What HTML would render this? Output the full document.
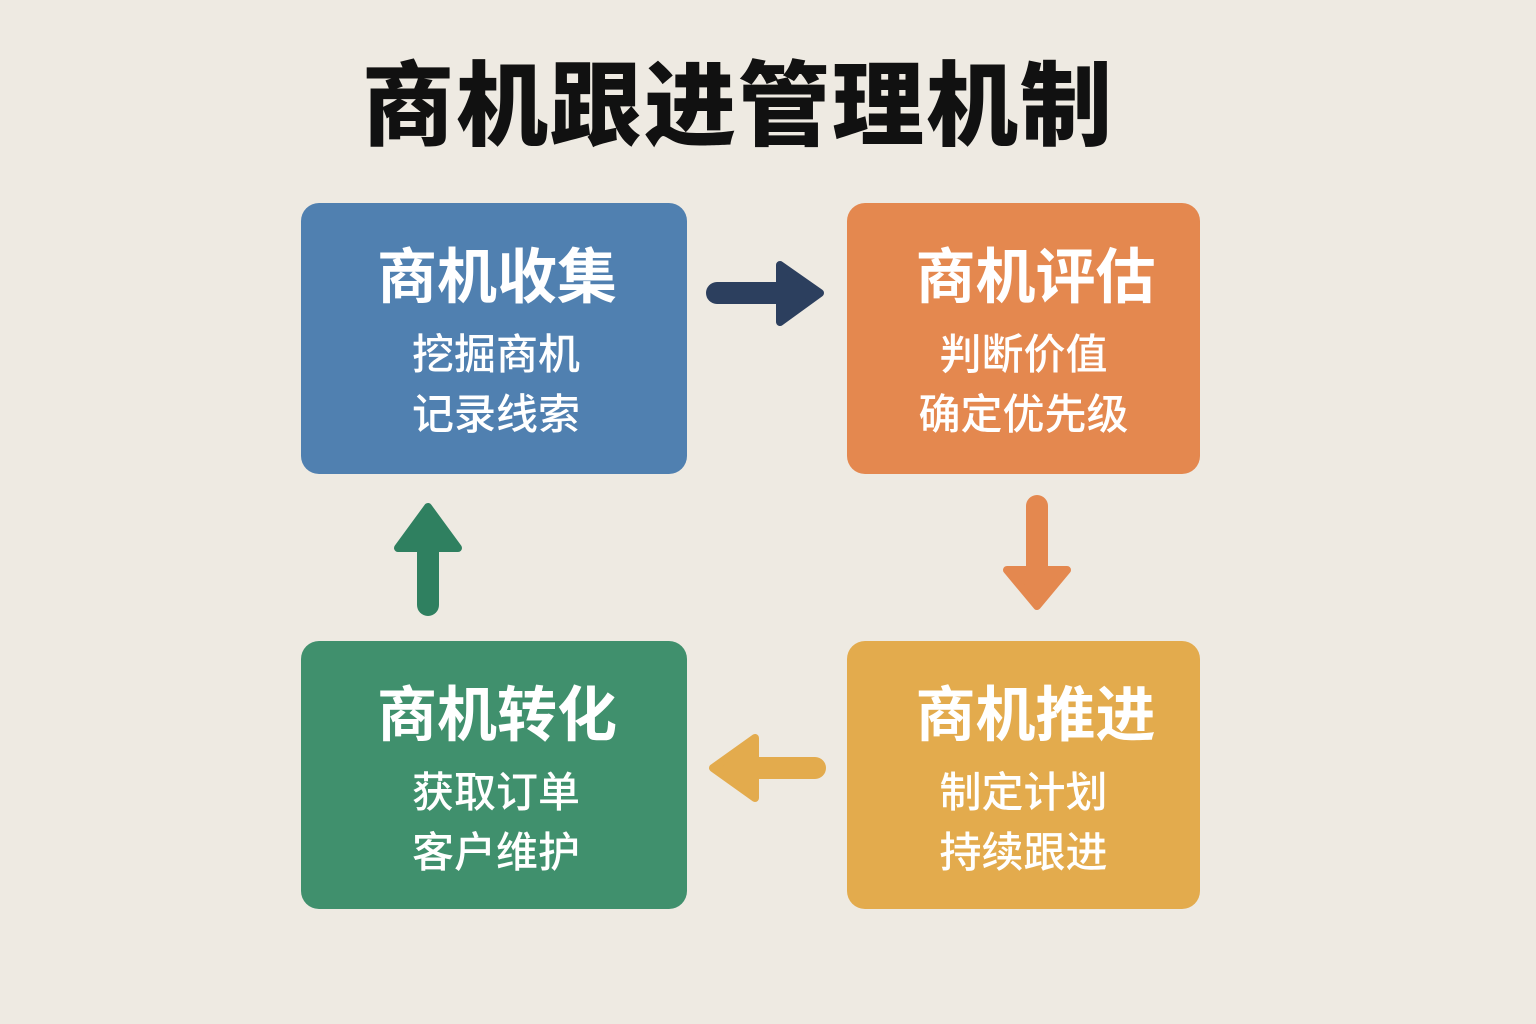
<!DOCTYPE html>
<html><head><meta charset="utf-8"><style>
body{margin:0;width:1536px;height:1024px;background:#eeeae2;position:relative;overflow:hidden;font-family:"Liberation Sans","Noto Sans CJK SC",sans-serif;}
.t{position:absolute;left:0;width:1476px;top:52px;text-align:center;font-size:92px;font-weight:900;color:#111;letter-spacing:2px;line-height:110px}
.b{position:absolute;border-radius:18px;color:#fff;text-align:center}
.b h2{margin:0;font-size:60px;font-weight:700;line-height:70px;position:absolute;left:0;right:0;top:40px}
.b p{margin:0;font-size:42px;font-weight:500;line-height:60px;position:absolute;left:0;right:0;top:122px}
svg{position:absolute;left:0;top:0}
</style></head><body>
<div class="t">商机跟进管理机制</div>
<div class="b" style="left:301px;top:203px;width:386px;height:271px;background:#5080b0"><h2 style="left:6px">商机收集</h2><p style="left:4px">挖掘商机<br>记录线索</p></div>
<div class="b" style="left:847px;top:203px;width:353px;height:271px;background:#e4884f"><h2 style="left:24px">商机评估</h2><p style="left:0px">判断价值<br>确定优先级</p></div>
<div class="b" style="left:301px;top:641px;width:386px;height:268px;background:#40906d"><h2 style="left:6px">商机转化</h2><p style="left:4px">获取订单<br>客户维护</p></div>
<div class="b" style="left:847px;top:641px;width:353px;height:268px;background:#e3ab4d"><h2 style="left:24px">商机推进</h2><p style="left:0px">制定计划<br>持续跟进</p></div>
<svg width="1536" height="1024">
<g stroke-linecap="round" stroke-linejoin="round">
<line x1="717" y1="293" x2="790" y2="293" stroke="#2c3f5e" stroke-width="22"/>
<polygon points="780,265 820,293 780,322" fill="#2c3f5e" stroke="#2c3f5e" stroke-width="8"/>
<line x1="1037" y1="506" x2="1037" y2="575" stroke="#e4884f" stroke-width="22"/>
<polygon points="1007,570 1067,570 1037,606" fill="#e4884f" stroke="#e4884f" stroke-width="8"/>
<line x1="815" y1="768" x2="745" y2="768" stroke="#e3ab4d" stroke-width="22"/>
<polygon points="755,738 755,798 713,768" fill="#e3ab4d" stroke="#e3ab4d" stroke-width="8"/>
<line x1="428" y1="605" x2="428" y2="540" stroke="#2f8060" stroke-width="22"/>
<polygon points="398,548 458,548 428,507" fill="#2f8060" stroke="#2f8060" stroke-width="8"/>
</g></svg>
</body></html>
